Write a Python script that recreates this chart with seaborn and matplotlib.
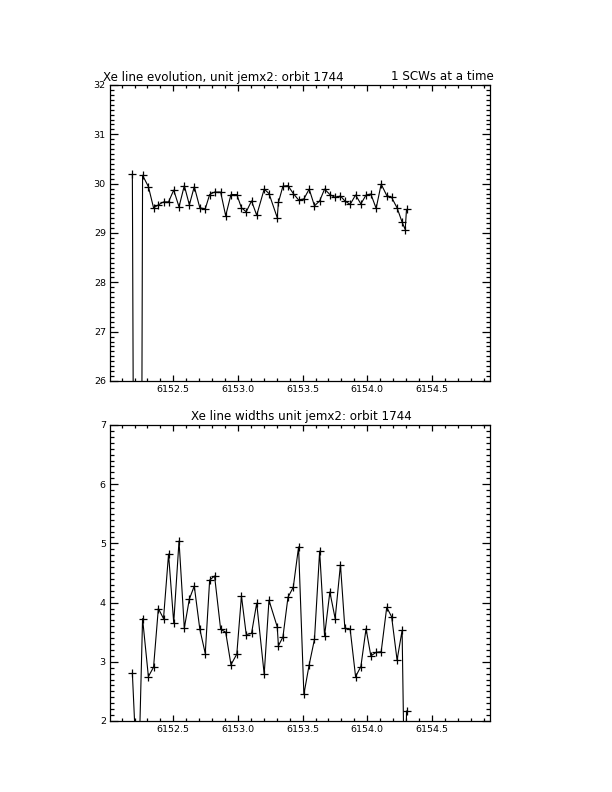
import matplotlib
matplotlib.use("Agg")
import matplotlib.pyplot as plt
from matplotlib.ticker import MultipleLocator, FormatStrFormatter
import seaborn as sns
import pandas as pd

# ---- data ----
time = [6152.183, 6152.227, 6152.262, 6152.307, 6152.347, 6152.384, 6152.424, 6152.463,
        6152.503, 6152.544, 6152.585, 6152.624, 6152.662, 6152.705, 6152.747, 6152.781,
        6152.819, 6152.866, 6152.905, 6152.946, 6152.991, 6153.027, 6153.064, 6153.105,
        6153.145, 6153.203, 6153.240, 6153.304, 6153.313, 6153.348, 6153.387, 6153.428,
        6153.469, 6153.510, 6153.551, 6153.592, 6153.632, 6153.670, 6153.711, 6153.752,
        6153.793, 6153.827, 6153.868, 6153.910, 6153.951, 6153.991, 6154.028, 6154.069,
        6154.108, 6154.151, 6154.189, 6154.231, 6154.270, 6154.294, 6154.304]

xe_energy = [30.19, 0.0, 30.17, 29.94, 29.51, 29.57, 29.63, 29.63, 29.87, 29.53,
             29.96, 29.57, 29.94, 29.51, 29.49, 29.78, 29.83, 29.83, 29.35, 29.78,
             29.78, 29.51, 29.43, 29.65, 29.36, 29.89, 29.80, 29.31, 29.62, 29.95,
             29.96, 29.80, 29.67, 29.69, 29.89, 29.55, 29.65, 29.89, 29.78, 29.72,
             29.75, 29.65, 29.58, 29.77, 29.59, 29.77, 29.79, 29.50, 29.99, 29.76,
             29.72, 29.51, 29.22, 29.07, 29.48]

xe_width = [2.81, 0.7, 3.73, 2.75, 2.91, 3.90, 3.73, 4.82, 3.66, 5.04,
            3.57, 4.06, 4.28, 3.55, 3.14, 4.38, 4.45, 3.55, 3.50, 2.95,
            3.13, 4.11, 3.46, 3.48, 3.99, 2.79, 4.04, 3.59, 3.27, 3.42,
            4.09, 4.26, 4.94, 2.45, 2.95, 3.38, 4.87, 3.44, 4.18, 3.73,
            4.64, 3.57, 3.55, 2.75, 2.92, 3.56, 3.10, 3.16, 3.17, 3.92,
            3.76, 3.03, 3.53, 0.0, 2.17]

title_top_left = "Xe line evolution, unit jemx2: orbit 1744"
title_top_right = "1 SCWs at a time"
title_bottom = "Xe line widths unit jemx2: orbit 1744"

df = pd.DataFrame({"time": time, "energy": xe_energy, "width": xe_width})

sns.set_style("white")
plt.rcParams["font.family"] = ["DejaVu Sans"]

W, H = 612, 792
fig = plt.figure(figsize=(W / 100, H / 100), dpi=100)
fig.patch.set_facecolor("white")

ax1 = fig.add_axes([110 / W, (H - 381) / H, 380 / W, 296 / H])
ax2 = fig.add_axes([110 / W, (H - 721) / H, 380 / W, 296 / H])

line_kw = dict(color="black", linewidth=0.8, marker="+", markersize=6,
               markeredgewidth=0.9, markeredgecolor="black", markerfacecolor="black",
               sort=False, estimator=None, legend=False)
sns.lineplot(data=df, x="time", y="energy", ax=ax1, **line_kw)
sns.lineplot(data=df, x="time", y="width", ax=ax2, **line_kw)

for ax, (ylo, yhi) in ((ax1, (26, 32)), (ax2, (2, 7))):
    ax.set_xlim(6152.01, 6154.95)
    ax.set_ylim(ylo, yhi)
    ax.set_xlabel("")
    ax.set_ylabel("")
    ax.set_facecolor("white")
    ax.xaxis.set_major_locator(MultipleLocator(0.5))
    ax.xaxis.set_minor_locator(MultipleLocator(0.1))
    ax.xaxis.set_major_formatter(FormatStrFormatter("%.1f"))
    ax.yaxis.set_major_locator(MultipleLocator(1))
    ax.yaxis.set_minor_locator(MultipleLocator(0.1))
    ax.yaxis.set_major_formatter(FormatStrFormatter("%d"))
    ax.tick_params(which="both", direction="in", top=True, right=True,
                   bottom=True, left=True,
                   color="black", width=0.9, labelsize=6.8, labelcolor="black")
    ax.tick_params(axis="x", which="major", length=4.3, pad=3)
    ax.tick_params(axis="x", which="minor", length=2.2)
    ax.tick_params(axis="y", which="major", length=5.5, pad=3)
    ax.tick_params(axis="y", which="minor", length=2.7)
    for s in ax.spines.values():
        s.set_visible(True)
        s.set_color("black")
        s.set_linewidth(0.9)

fig.text(103 / W, (H - 80.5) / H, title_top_left, ha="left", va="baseline",
         fontsize=8.6, color="black")
fig.text(494 / W, (H - 80.5) / H, title_top_right, ha="right", va="baseline",
         fontsize=8.6, color="black")
fig.text(301 / W, (H - 420) / H, title_bottom, ha="center", va="baseline",
         fontsize=8.6, color="black")

fig.savefig("out.png", dpi=100, facecolor="white")
